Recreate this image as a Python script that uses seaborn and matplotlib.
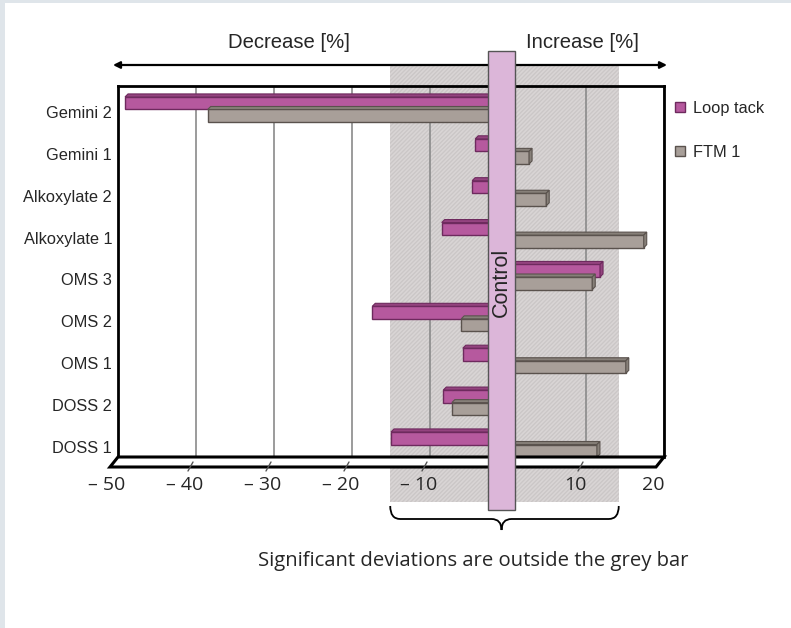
import numpy as np
import pandas as pd
import matplotlib
matplotlib.use("Agg")
import matplotlib.pyplot as plt
import seaborn as sns
from matplotlib.patches import Rectangle, Polygon, PathPatch
from matplotlib.path import Path
from matplotlib.lines import Line2D
from matplotlib.transforms import ScaledTranslation, blended_transform_factory

# ---------------- data ----------------
categories = ["Gemini 2", "Gemini 1", "Alkoxylate 2", "Alkoxylate 1", "OMS 3",
              "OMS 2", "OMS 1", "DOSS 2", "DOSS 1"]
loop_tack = [-49.1, -4.2, -4.6, -8.5, 11.8, -17.4, -5.8, -8.3, -15.0]
ftm_1 = [-38.5, 2.7, 4.9, 17.4, 10.8, -6.0, 15.1, -7.2, 11.4]
series_names = ["Loop tack", "FTM 1"]
x_ticks = [-50, -40, -30, -20, -10, 10, 20]
x_tick_labels = ["– 50", "– 40", "– 30", "– 20", "– 10", "10", "20"]
band_range = (-15.1, 14.2)      # grey "non significant" band
control_range = (-2.56, 0.9)    # control column

# ---------------- style ----------------
sns.set_style("white")
plt.rcParams["font.family"] = ["Liberation Sans", "DejaVu Sans"]

face_colors = ["#b6599e", "#a89f99"]
edge_colors = ["#6e2a5e", "#5a524d"]
top_colors = ["#94437f", "#878079"]

W, H = 791, 628
fig = plt.figure(figsize=(W / 100, H / 100), dpi=100)
fig.patch.set_facecolor("white")
# light border strips of the original page
fig.patches.append(Rectangle((0, 1 - 3 / H), 1, 3 / H, transform=fig.transFigure,
                             fc="#dfe5ea", ec="none", zorder=0))
fig.patches.append(Rectangle((0, 0), 5 / W, 1, transform=fig.transFigure,
                             fc="#dfe5ea", ec="none", zorder=0))

ax_l, ax_r, ax_t, ax_b = 118, 664, 86, 457
ax = fig.add_axes([ax_l / W, 1 - ax_b / H, (ax_r - ax_l) / W, (ax_b - ax_t) / H])
ax_h_px = ax_b - ax_t


def fy(py):
    """pixel row -> axes fraction"""
    return (ax_b - py) / ax_h_px


df = pd.DataFrame({
    "category": categories * 2,
    "series": [series_names[0]] * len(categories) + [series_names[1]] * len(categories),
    "value": loop_tack + ftm_1,
})

sns.barplot(data=df, x="value", y="category", hue="series", orient="h",
            palette=face_colors, width=0.6, saturation=1, ax=ax,
            linewidth=1, zorder=2, legend=False)

y_lo, y_hi = 8.2985, -0.561
ax.set_xlim(-50, 20)
ax.set_ylim(y_lo, y_hi)

# pseudo 3D faces from the drawn bars
px_per_x = (ax_r - ax_l) / 70.0
px_per_y = ax_h_px / (y_lo - y_hi)
dx = 3.0 / px_per_x
dy = 3.0 / px_per_y
for i, cont in enumerate(ax.containers):
    for p in cont.patches:
        p.set_edgecolor(edge_colors[i])
        p.set_linewidth(1)
        x0, w, y0, h = p.get_x(), p.get_width(), p.get_y(), p.get_height()
        xl, xr = min(x0, x0 + w), max(x0, x0 + w)
        top = Polygon([(xl, y0), (xr, y0), (xr + dx, y0 - dy), (xl + dx, y0 - dy)],
                      closed=True, fc=top_colors[i], ec=edge_colors[i], lw=0.8, zorder=2)
        ax.add_patch(top)
        if w > 0:
            side = Polygon([(xr, y0), (xr + dx, y0 - dy), (xr + dx, y0 + h - dy), (xr, y0 + h)],
                           closed=True, fc=top_colors[i], ec=edge_colors[i], lw=0.8, zorder=2)
            ax.add_patch(side)

# grid + frame
ax.set_axisbelow(True)
ax.set_xticks(x_ticks)
ax.set_xticklabels(x_tick_labels, fontsize=14, family=["Open Sans", "DejaVu Sans"])
ax.grid(axis="x", color="#8a8a8a", lw=1.2)
ax.grid(axis="y", visible=False)
ax.set_xlabel("")
ax.set_ylabel("")
for s in ["left", "top", "right"]:
    ax.spines[s].set_visible(True)
    ax.spines[s].set_linewidth(2)
    ax.spines[s].set_color("black")
ax.spines["bottom"].set_visible(False)
ax.tick_params(axis="x", length=0, pad=14)
ax.tick_params(axis="y", length=0, pad=4.3, labelsize=11.8)
for lab in ax.get_yticklabels():
    lab.set_transform(lab.get_transform() + ScaledTranslation(0, -2.5 / 100, fig.dpi_scale_trans))
for lab in ax.get_xticklabels():
    lab.set_transform(lab.get_transform() + ScaledTranslation(-11 / 100, 0, fig.dpi_scale_trans))

bt = blended_transform_factory(ax.transData, ax.transAxes)

# grey band
ax.add_patch(Rectangle((band_range[0], fy(502)), band_range[1] - band_range[0], fy(65) - fy(502),
                       transform=bt, clip_on=False, fc="#d9d5d5", ec="#cbc7c7",
                       hatch="////////", lw=0, zorder=0.3))

# floor slab
off_x = 8 / (ax_r - ax_l)
off_y = 10 / ax_h_px
ax.add_patch(Polygon([(0, 0), (1, 0), (1 - off_x, -off_y), (-off_x, -off_y)], closed=True,
                     transform=ax.transAxes, clip_on=False, fc="white", ec="black", lw=2.2, zorder=3))
for t in x_ticks[1:-1]:
    ax.plot([t - 3 / px_per_x, t - 8 / px_per_x], [fy(462), fy(471)], transform=bt,
            color="#555555", lw=1, clip_on=False, zorder=3.5)

# double arrow
ax.annotate("", xy=(-0.0092, fy(65)), xytext=(1.0055, fy(65)), xycoords="axes fraction",
            arrowprops=dict(arrowstyle="<|-|>", color="black", lw=1.6, mutation_scale=10,
                            shrinkA=0, shrinkB=0), annotation_clip=False, zorder=1)

# control column
ax.add_patch(Rectangle((control_range[0], fy(510)), control_range[1] - control_range[0],
                       fy(51) - fy(510), transform=bt, clip_on=False, fc="#dcb6d9",
                       ec="#555555", lw=1, zorder=5))
ax.text(sum(control_range) / 2, fy(282), "Control", rotation=90, transform=bt,
        ha="center", va="center", fontsize=15.5, zorder=6)

# curly brace under the grey band
L, R = band_range
C = sum(control_range) / 2
r = 10 / px_per_x
yt, ym, ytip = fy(506), fy(519), fy(530)
verts = [(L, yt), (L, ym), (L + r, ym), (C - r, ym), (C, ym), (C, ytip),
         (C, ym), (C + r, ym), (R - r, ym), (R, ym), (R, yt)]
codes = [Path.MOVETO, Path.CURVE3, Path.CURVE3, Path.LINETO, Path.CURVE3, Path.CURVE3,
         Path.CURVE3, Path.CURVE3, Path.LINETO, Path.CURVE3, Path.CURVE3]
ax.add_patch(PathPatch(Path(verts, codes), transform=bt, fc="none", ec="black", lw=1.3,
                       clip_on=False, zorder=4))

# headings and note
fig.text(289 / W, 1 - 42 / H, "Decrease [%]", ha="center", va="center", fontsize=14.6)
fig.text(582 / W, 1 - 42 / H, "Increase [%]", ha="center", va="center", fontsize=14.6)
fig.text(473 / W, 1 - 561 / H, "Significant deviations are outside the grey bar",
         ha="center", va="center", fontsize=14.6, family=["Open Sans", "DejaVu Sans"])

# legend
handles = [Line2D([], [], marker="s", ls="", ms=7, mfc=face_colors[i], mec=edge_colors[i], mew=1)
           for i in range(2)]
fig.legend(handles, series_names, loc="upper left", bbox_to_anchor=(673 / W, 1 - 101 / H),
           frameon=False, handlelength=0.8, handletextpad=0.4, labelspacing=1.75,
           fontsize=11.8, borderaxespad=0, borderpad=0)

fig.savefig("out.png", dpi=100)
